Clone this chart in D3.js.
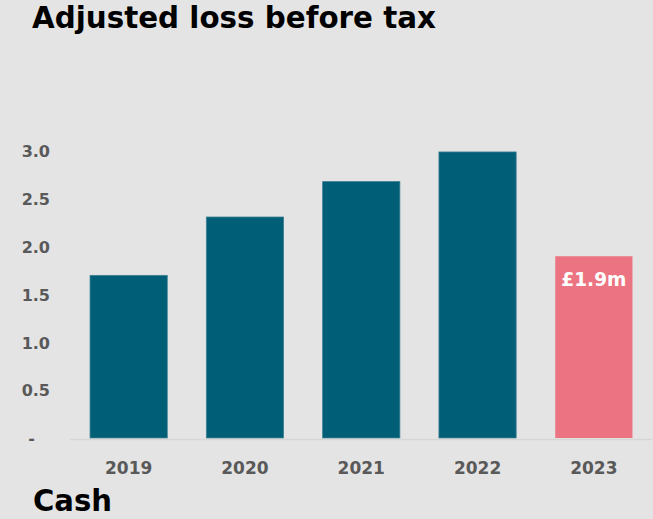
<!DOCTYPE html>
<html>
<head>
<meta charset="utf-8">
<script src="https://cdn.jsdelivr.net/npm/d3@7"></script>
<style>
  html, body { margin: 0; padding: 0; background: #e4e4e4; }
  svg { display: block; }
</style>
</head>
<body>
<div id="chart"></div>
<script>
// Adjusted loss before tax, £m
const years = ["2019", "2020", "2021", "2022", "2023"];
const values = [1.7, 2.31, 2.68, 2.99, 1.9];
const highlightYear = "2023";
const highlightLabel = "£1.9m";
const yTicks = [0, 0.5, 1.0, 1.5, 2.0, 2.5, 3.0];

const W = 653, H = 519;
const font = "'DejaVu Sans', sans-serif";

const svg = d3.select("#chart").append("svg")
  .attr("width", W).attr("height", H);

svg.append("rect").attr("width", W).attr("height", H).attr("fill", "#e4e4e4");

const x = d3.scaleBand()
  .domain(years)
  .range([70.5, 652])
  .paddingInner(0.336)
  .paddingOuter(0.168);

const y = d3.scaleLinear()
  .domain([0, 3])
  .range([438, 151]);

// Title
svg.append("text")
  .attr("x", 32).attr("y", 28)
  .attr("font-family", font).attr("font-weight", "bold")
  .attr("font-size", 30).attr("fill", "#000")
  .attr("textLength", 404).attr("lengthAdjust", "spacingAndGlyphs")
  .text("Adjusted loss before tax");

// Y axis labels (no line, no ticks)
const yAxis = d3.axisLeft(y)
  .tickValues(yTicks)
  .tickSize(0)
  .tickPadding(0)
  .tickFormat(d => d === 0 ? "-" : d3.format(".1f")(d));

const yg = svg.append("g")
  .attr("transform", "translate(50,0)")
  .call(yAxis);
yg.select(".domain").remove();
yg.selectAll("text")
  .attr("font-family", font).attr("font-weight", "bold")
  .attr("font-size", 16).attr("fill", "#595959")
  .attr("dy", "0.36em")
  .attr("x", d => d === 0 ? -15 : 0);

// Bars
svg.append("g").selectAll("rect")
  .data(years.map((yr, i) => ({ yr, v: values[i] })))
  .join("rect")
  .attr("x", d => x(d.yr))
  .attr("y", d => y(d.v))
  .attr("width", x.bandwidth())
  .attr("height", d => y(0) - y(d.v))
  .attr("fill", d => d.yr === highlightYear ? "#ec7482" : "#005e77")
  .attr("stroke", d => d.yr === highlightYear ? "none" : "#3d7f92")
  .attr("stroke-width", 0.8);

// Baseline
svg.append("line")
  .attr("x1", 70).attr("x2", 652)
  .attr("y1", 439.5).attr("y2", 439.5)
  .attr("stroke", "#d6d6d6").attr("stroke-width", 1.5);

// X axis labels
const xAxis = d3.axisBottom(x).tickSize(0).tickPadding(0);
const xg = svg.append("g")
  .attr("transform", "translate(0,474)")
  .call(xAxis);
xg.select(".domain").remove();
xg.selectAll("text")
  .attr("font-family", font).attr("font-weight", "bold")
  .attr("font-size", 17).attr("fill", "#595959")
  .attr("dy", 0);

// Value label on highlighted bar
const hv = values[years.indexOf(highlightYear)];
svg.append("text")
  .attr("x", x(highlightYear) + x.bandwidth() / 2)
  .attr("y", y(hv) + 30)
  .attr("text-anchor", "middle")
  .attr("font-family", font).attr("font-weight", "bold")
  .attr("font-size", 19).attr("fill", "#ffffff")
  .attr("textLength", 65).attr("lengthAdjust", "spacingAndGlyphs")
  .text(highlightLabel);

// Next section heading
svg.append("text")
  .attr("x", 33).attr("y", 511)
  .attr("font-family", font).attr("font-weight", "bold")
  .attr("font-size", 30).attr("fill", "#000")
  .attr("textLength", 79).attr("lengthAdjust", "spacingAndGlyphs")
  .text("Cash");
</script>
</body>
</html>
